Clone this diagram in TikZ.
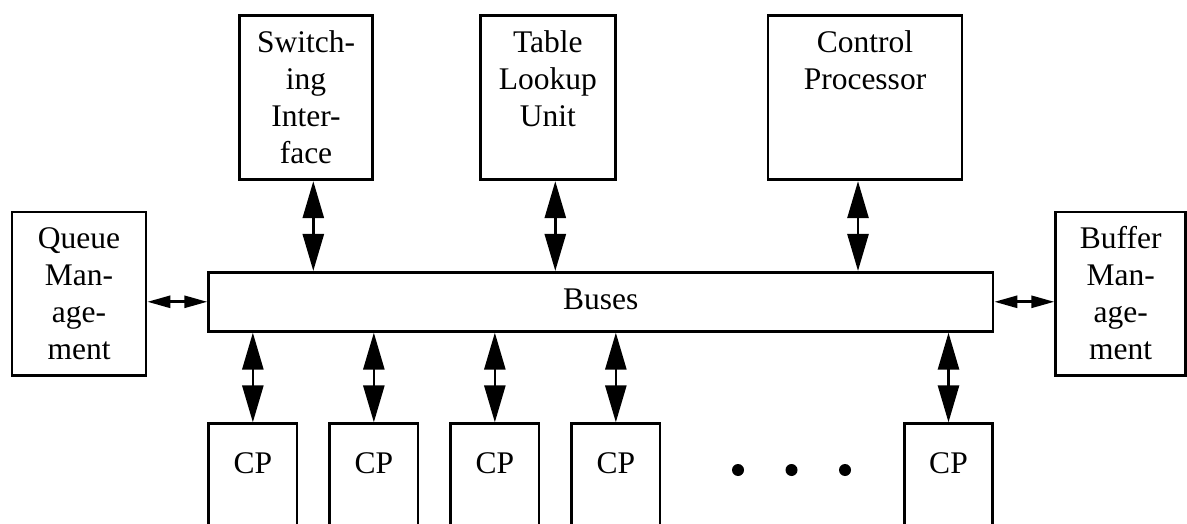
\documentclass[tikz,border=0pt]{standalone}
\usepackage{fontspec}
\setmainfont{Liberation Serif}
\usetikzlibrary{arrows.meta}
\tikzset{
  box/.style={draw, line width=2.7pt, rectangle, inner sep=0pt},
  txt/.style={align=center, inner sep=0pt, anchor=north,
    font=\fontsize{31.5}{37}\selectfont},
  vlink/.style={line width=2.7pt,
    {Triangle[length=37pt,width=21pt]}-{Triangle[length=37pt,width=21pt]}},
  hlink/.style={line width=2.7pt,
    {Triangle[length=23pt,width=12pt]}-{Triangle[length=23pt,width=12pt]}},
  dot/.style={circle, fill, inner sep=0pt, minimum size=12pt}
}
\begin{document}
\begin{tikzpicture}[x=1pt, y=-1pt]
  \useasboundingbox (0,0) rectangle (1187,524);
  \clip (0,0) rectangle (1187,524);

  % top row of units
  \node[box, minimum width=133pt, minimum height=164.5pt] (sw)  at (306,97.55) {};
  \node[box, minimum width=135pt, minimum height=164.5pt] (tl)  at (547.8,97.55) {};
  \node[box, minimum width=194pt, minimum height=164.5pt] (cpu) at (865,97.55) {};

  % side units
  \node[box, minimum width=134pt, minimum height=163.7pt] (qm) at (79,293.85) {};
  \node[box, minimum width=130pt, minimum height=163.7pt] (bm) at (1120.7,293.85) {};

  % bus
  \node[box, minimum width=784.3pt, minimum height=59pt] (bus) at (600.85,301.8) {};

  % channel processors (run past the lower edge)
  \foreach \n/\x in {1/252.85, 2/373.85, 3/494.85, 4/615.85, 5/948.5}{
    \node[box, minimum width=88.3pt, minimum height=136.3pt] (cp\n) at (\x,491.85) {};
    \node[txt] (cpt\n) at ([yshift=-25pt]cp\n.north) {\strut CP};
  }

  % labels
  \node[txt] (swt)  at ([yshift=-12.3pt]sw.north)  {\strut Switch-\\ing\\Inter-\\face};
  \node[txt] (tlt)  at ([yshift=-12.3pt]tl.north)  {\strut Table\\Lookup\\Unit};
  \node[txt] (cput) at ([yshift=-12.3pt]cpu.north) {\strut Control\\Processor};
  \node[txt] (qmt)  at ([yshift=-12pt]qm.north)    {\strut Queue\\Man-\\age-\\ment};
  \node[txt] (bmt)  at ([yshift=-12pt]bm.north)    {\strut Buffer\\Man-\\age-\\ment};
  \node[txt] (bust) at ([yshift=-12pt]bus.north)   {\strut Buses};

  % links to the bus
  \draw[vlink] ([xshift=7.3pt]sw.south)   -- ([xshift=7.3pt]sw.south |- bus.north);
  \draw[vlink] ([xshift=7.5pt]tl.south)   -- ([xshift=7.5pt]tl.south |- bus.north);
  \draw[vlink] ([xshift=-7pt]cpu.south)   -- ([xshift=-7pt]cpu.south |- bus.north);
  \foreach \n in {1,...,5}{
    \draw[vlink] (cp\n.north |- bus.south) -- (cp\n.north);
  }
  \draw[hlink] (qm.east |- bus.west) -- (bus.west);
  \draw[hlink] (bus.east) -- (bm.west |- bus.east);

  % ellipsis between the processors
  \node[dot] (d1) at (738,470) {};
  \node[dot] (d2) at (791.5,470) {};
  \node[dot] (d3) at (845,470) {};
\end{tikzpicture}
\end{document}
